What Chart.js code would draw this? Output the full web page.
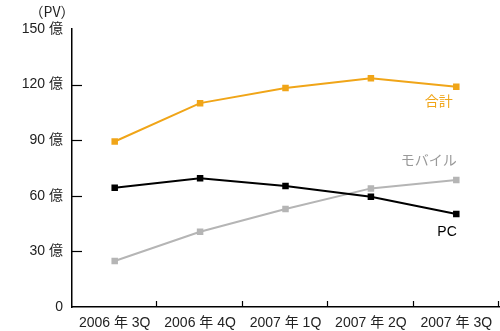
<!DOCTYPE html>
<html>
<head>
<meta charset="utf-8">
<script src="https://cdn.jsdelivr.net/npm/chart.js@4/dist/chart.umd.min.js"></script>
<style>
html,body{margin:0;padding:0;background:#fff;}
#wrap{position:relative;width:500px;height:331px;}
</style>
</head>
<body>
<div id="wrap"><canvas id="c" width="500" height="331"></canvas></div>
<script>
const categories = ['2006 年 3Q', '2006 年 4Q', '2007 年 1Q', '2007 年 2Q', '2007 年 3Q'];
const totalValues = [89.3, 110, 118.2, 123.4, 118.8];
const mobileValues = [24.8, 40.6, 52.9, 64, 68.5];
const pcValues = [64.4, 69.5, 65.3, 59.5, 50.2];
const yTicks = [0, 30, 60, 90, 120, 150];
const seriesNames = ['合計', 'モバイル', 'PC'];
const unitLabel = '（PV）';

const FONT = '"Liberation Sans", "Noto Sans CJK JP", sans-serif';
const ORANGE = '#f0a518';
const GRAY = '#b5b5b5';
const BLACK = '#000000';

const decor = {
  id: 'decor',
  afterDraw(chart) {
    const ctx = chart.ctx;
    const xs = chart.scales.x, ys = chart.scales.y;
    ctx.save();
    ctx.strokeStyle = '#000';
    ctx.lineWidth = 1.2;
    yTicks.forEach(v => {
      if (v === yTicks[0] || v === yTicks[yTicks.length - 1]) return;
      const py = Math.round(ys.getPixelForValue(v)) + 0.5;
      ctx.beginPath();
      ctx.moveTo(xs.left, py);
      ctx.lineTo(xs.left + 10, py);
      ctx.stroke();
    });
    for (let i = 1; i <= categories.length; i++) {
      const px = Math.round(xs.getPixelForValue(i - 0.5)) - 0.5;
      ctx.beginPath();
      ctx.moveTo(px, ys.bottom);
      ctx.lineTo(px, ys.bottom - 6);
      ctx.stroke();
    }
    ctx.font = '14px "Noto Sans CJK JP", sans-serif';
    ctx.fillStyle = '#222';
    ctx.textAlign = 'center';
    ctx.textBaseline = 'middle';
    ctx.fillText(unitLabel, 52, 12);
    ctx.font = '14px ' + FONT;
    const dy = [15, -19, 18];
    const dx = [-4, 0, 0];
    ctx.textAlign = 'right';
    chart.data.datasets.forEach((ds, di) => {
      const meta = chart.getDatasetMeta(di);
      const pt = meta.data[meta.data.length - 1];
      ctx.fillStyle = ds.labelColor;
      ctx.fillText(ds.label, pt.x + 0.5 + dx[ds.idx], pt.y + dy[ds.idx]);
    });
    ctx.restore();
  }
};

const mk = (label, data, color, idx, order) => ({
  label, data, idx, order,
  labelColor: color === GRAY ? '#999' : color,
  borderColor: color, backgroundColor: color,
  borderWidth: 2, pointStyle: 'rect', pointRadius: 4.6, pointHoverRadius: 4.6,
  pointBorderWidth: 0, tension: 0, fill: false
});

new Chart(document.getElementById('c'), {
  type: 'line',
  data: {
    labels: categories,
    datasets: [
      mk(seriesNames[0], totalValues, ORANGE, 0, 3),
      mk(seriesNames[1], mobileValues, GRAY, 1, 2),
      mk(seriesNames[2], pcValues, BLACK, 2, 1)
    ]
  },
  options: {
    responsive: false,
    animation: false,
    devicePixelRatio: 1,
    layout: { autoPadding: false, padding: { top: 29, right: 1, left: 0, bottom: 0 } },
    plugins: { legend: { display: false }, tooltip: { enabled: false } },
    scales: {
      x: {
        offset: true,
        grid: { display: true, drawOnChartArea: false, drawTicks: false },
        border: { display: true, color: '#000', width: 1.5 },
        ticks: { color: '#222', font: { family: FONT, size: 14 }, padding: 8, maxRotation: 0, autoSkip: false },
        afterFit(s) { s.height = 24; s.paddingLeft = 0; s.paddingRight = 0; }
      },
      y: {
        min: 0, max: 150,
        grid: { display: true, drawOnChartArea: false, drawTicks: false },
        border: { display: true, color: '#000', width: 1.5 },
        afterBuildTicks(s) { s.ticks = yTicks.map(v => ({ value: v })); },
        ticks: {
          color: '#222', font: { family: FONT, size: 14 }, padding: 9,
          callback: v => v === 0 ? '0' : v + ' 億'
        },
        afterFit(s) { s.width = 72; s.paddingTop = 0; s.paddingBottom = 0; }
      }
    }
  },
  plugins: [decor]
});
</script>
</body>
</html>
